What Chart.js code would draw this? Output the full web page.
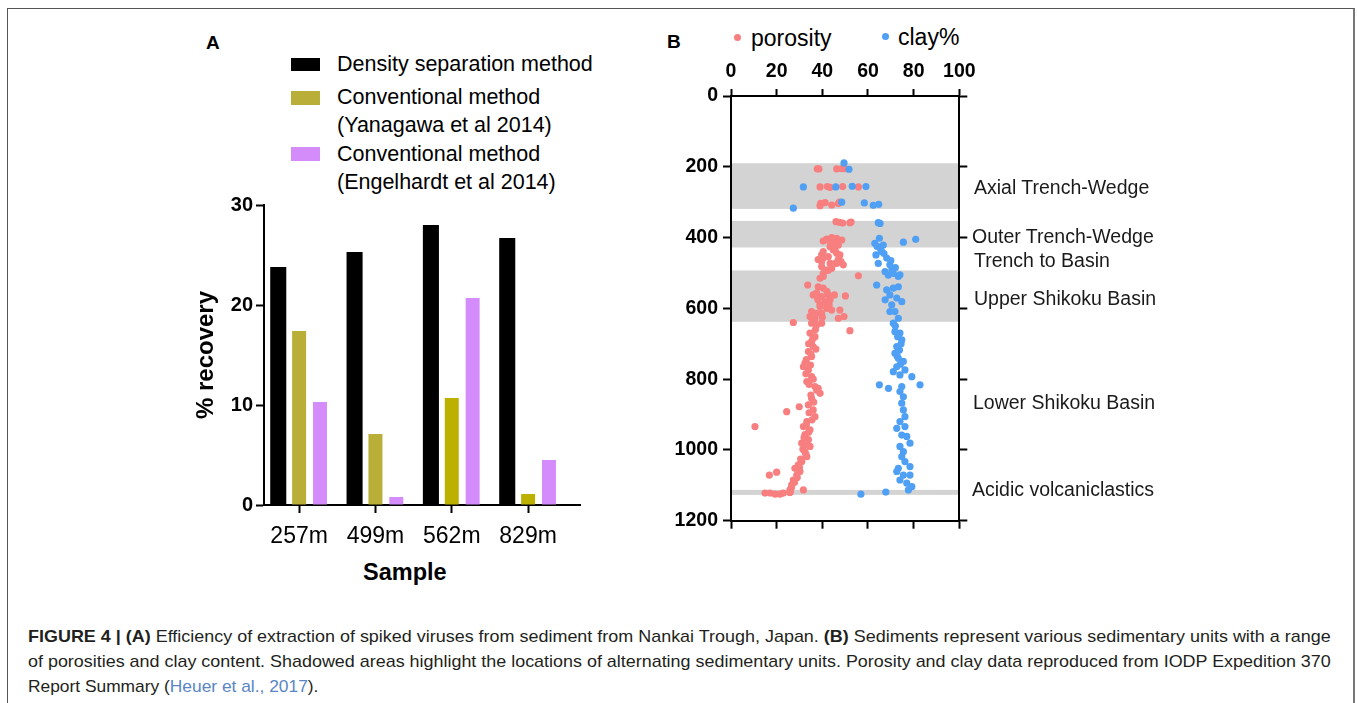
<!DOCTYPE html>
<html>
<head>
<meta charset="utf-8">
<script src="https://cdn.jsdelivr.net/npm/chart.js@4.4.0/dist/chart.umd.min.js"></script>
<style>
  body { margin: 0; width: 1357px; height: 703px; overflow: hidden; background: #fff; position: relative;
         font-family: 'Liberation Sans', Arial, sans-serif; color: #000; }
  .frame { position: absolute; left: 7px; top: 8px; width: 1348px; height: 760px; box-sizing: border-box;
           border: 1px solid #555; border-right: 2px solid #777; }
  .t { position: absolute; white-space: nowrap; line-height: 1; transform: translateY(-50%); }
  .b { font-weight: bold; }
  .sw { position: absolute; width: 29px; height: 14px; }
  .dot { position: absolute; width: 7px; height: 7px; border-radius: 50%; }
  .unit { font-size: 19.5px; color: #1a1a1a; }
  .leg { font-size: 21.5px; }
  .cap { font-family: 'Liberation Sans Narrow', 'Liberation Sans', Arial, sans-serif; font-size: 17px;
         color: #231f20; transform-origin: left center; }
  canvas { position: absolute; }
</style>
</head>
<body>
<div class="frame"></div>

<!-- panel A -->
<div class="t b" style="left:206px;top:42px;font-size:19px">A</div>
<div class="sw" style="left:291px;top:58px;height:13px;background:#000"></div>
<div class="t leg" style="left:337px;top:65px">Density separation method</div>
<div class="sw" style="left:291px;top:91px;background:#b9ae37"></div>
<div class="t leg" style="left:337px;top:98px">Conventional method</div>
<div class="t leg" style="left:337px;top:126px">(Yanagawa et al 2014)</div>
<div class="sw" style="left:291px;top:147px;background:#d48cfa"></div>
<div class="t leg" style="left:337px;top:155px">Conventional method</div>
<div class="t leg" style="left:337px;top:183px">(Engelhardt et al 2014)</div>
<div class="t b" style="left:363px;top:573px;font-size:23.5px">Sample</div>
<canvas id="chartA" width="440" height="410" style="left:150px;top:190px;width:440px;height:410px"></canvas>

<!-- panel B -->
<div class="t b" style="left:667px;top:41px;font-size:19px">B</div>
<div class="dot" style="left:734px;top:34px;background:#f87f7f"></div>
<div class="t" style="left:751px;top:38px;font-size:23px">porosity</div>
<div class="dot" style="left:882px;top:33px;background:#4fa0f4"></div>
<div class="t" style="left:898px;top:37px;font-size:23px">clay%</div>
<canvas id="chartB" width="330" height="490" style="left:660px;top:50px;width:330px;height:490px"></canvas>
<div class="t unit" style="left:974px;top:188px">Axial Trench-Wedge</div>
<div class="t unit" style="left:972px;top:237px">Outer Trench-Wedge</div>
<div class="t unit" style="left:974px;top:261px">Trench to Basin</div>
<div class="t unit" style="left:974px;top:299px">Upper Shikoku Basin</div>
<div class="t unit" style="left:973px;top:403px">Lower Shikoku Basin</div>
<div class="t unit" style="left:972px;top:490px">Acidic volcaniclastics</div>

<!-- caption -->
<div class="t cap" data-w="1303" style="left:28px;top:636px"><b>FIGURE 4 | (A)</b> Efficiency of extraction of spiked viruses from sediment from Nankai Trough, Japan. <b>(B)</b> Sediments represent various sedimentary units with a range</div>
<div class="t cap" data-w="1303" style="left:28px;top:661px">of porosities and clay content. Shadowed areas highlight the locations of alternating sedimentary units. Porosity and clay data reproduced from IODP Expedition 370</div>
<div class="t cap" data-w="290" style="left:28px;top:686px">Report Summary (<span style="color:#5a86c5">Heuer et al., 2017</span>).</div>

<script>
// ---- panel A data ----
const samples = ["257m", "499m", "562m", "829m"];
const densityVals = [23.8, 25.3, 28.0, 26.7];
const yanagawaVals = [17.4, 7.1, 10.7, 1.1];
const engelhardtVals = [10.3, 0.8, 20.7, 4.5];

// ---- panel B data: [value %, depth m] ----
const porosity = [
  [37.8, 206], [38.5, 206], [46.3, 206], [48.5, 205], [50, 205],
  [39, 257], [42.2, 256], [43.4, 258], [48.9, 256], [55.8, 257],
  [39.3, 303], [39, 310], [41.2, 301], [44.1, 308], [47, 304], [47.5, 300],
  [46, 355], [47.5, 357], [48.9, 359], [52.1, 358], [52.6, 356],
  [41.9, 404], [44.1, 400], [46.3, 402], [48.5, 407], [45.6, 416], [43.4, 426], [47, 421],
  [44.8, 435], [40.4, 440], [39.7, 449], [42.6, 454], [46.3, 444], [47.7, 449], [49.2, 477],
  [43.4, 473], [46.3, 473], [39.7, 482], [41.9, 492], [40.4, 501], [44.1, 487], [55.8, 508],
  [40.4, 410], [43.4, 412], [45.6, 430], [38.2, 462], [40.4, 458], [47, 462], [48.2, 468],
  [39.7, 468], [42.6, 492], [45.6, 473],
  [40.4, 510], [39, 515], [33.6, 534], [38.2, 539], [36, 562], [39.7, 567], [42.6, 562],
  [45.3, 562], [50.1, 565], [39, 590], [41.2, 581], [43.4, 576], [41.9, 600], [47.7, 605],
  [39.7, 614], [35.3, 609], [34.6, 623], [47, 628], [49.5, 623], [27.3, 640], [35.3, 642],
  [37.5, 647], [39.7, 642], [52.1, 663], [37.5, 557], [40.4, 543], [41.9, 586], [39, 595],
  [44.1, 605], [37.5, 614], [43, 590], [38, 575], [42, 552], [36.8, 630], [40, 625],
  [34.6, 670], [36.8, 680], [35.3, 694], [36, 708], [33.9, 722], [35.3, 736], [32.4, 755],
  [31.7, 765], [33.9, 774], [35.3, 793], [33.2, 807], [36.8, 821], [38.2, 826],
  [37, 660], [35.8, 686], [34, 700], [37.2, 715], [35, 730], [33, 745], [34.8, 760],
  [32.8, 785], [36, 800], [34.2, 815], [33.5, 760],
  [37.5, 831], [39, 840], [35.3, 854], [33.9, 873], [36, 887], [36.8, 906], [33.2, 920],
  [31.7, 934], [34.6, 943], [32.4, 957], [33.9, 971], [31, 981], [34.6, 990], [32.4, 1005],
  [33.2, 1019], [31, 1033], [29.5, 1042], [28, 1052], [30.2, 1061], [28.8, 1071], [27.3, 1085],
  [26.6, 1099], [25.8, 1113], [31.7, 1113],
  [24.4, 892], [29.9, 878], [10.5, 934], [16.8, 1071], [20, 1063],
  [14.9, 1122], [17.1, 1122], [19.3, 1125], [21.5, 1125], [22.9, 1122], [25.8, 1120],
  [35, 845], [36.2, 865], [34.2, 895], [35.5, 915], [33, 930], [34, 950], [32, 965],
  [33.5, 985], [31.5, 998], [32.8, 1012], [30.5, 1026], [30, 1050], [29, 1078], [27.8, 1092],
  [26.5, 1106], [26, 1118]
];
const clay = [
  [49.5, 189], [51.7, 207],
  [31.7, 257], [45.9, 257], [53.1, 255], [59.1, 256],
  [27.3, 317], [48.5, 300], [58.4, 302], [62.3, 309], [64.7, 306],
  [64.5, 358], [65.3, 360],
  [65, 402], [63, 416], [66.7, 421], [75.5, 413], [80.9, 405],
  [63.5, 449], [66, 440], [68.2, 458], [64.5, 473], [69.6, 477], [67.5, 496], [71.1, 501], [74, 505],
  [64, 425], [65.5, 432], [67, 445], [70, 465], [72, 485], [70.5, 490],
  [68.9, 506], [73.3, 510],
  [63.8, 534], [68.2, 548], [71.1, 543], [73.3, 539], [69.6, 562], [67.5, 576], [72.6, 571],
  [74.8, 581], [70.4, 590], [69.6, 609], [71.8, 609], [73.3, 628], [71.1, 642], [71.8, 666],
  [74, 670], [74.8, 689], [72.6, 708], [71.8, 727], [73.3, 741], [75.5, 750], [72.6, 765],
  [76.2, 774], [71.1, 779], [74, 788], [79.2, 793], [82.8, 816], [65, 816], [74.8, 821], [69, 826],
  [72, 650], [73, 680], [74.5, 700], [73.8, 718], [72.8, 735], [74.2, 758],
  [74, 835], [75.5, 850], [74.8, 868], [75.5, 887], [76.2, 906], [74, 920], [72.6, 939],
  [76.2, 934], [74.8, 958], [77, 962], [78.4, 981], [74, 990], [75.5, 1005], [74.8, 1019],
  [76.2, 1033], [78.4, 1047], [73.3, 1052], [72.6, 1061], [75.5, 1071], [78.4, 1071],
  [74, 1085], [77, 1094], [79.2, 1104], [77.7, 1113],
  [56.9, 1125], [67.8, 1119]
];
// shaded sedimentary units (depth, m)
const bandTop = [190, 353, 493, 1113];
const bandBottom = [319, 428, 638, 1127];

Chart.defaults.font.family = "'Liberation Sans', Arial, sans-serif";
Chart.defaults.color = "#000";

const axisGrid = (len) => ({ drawOnChartArea: false, color: "#000", tickLength: len, tickWidth: 2, offset: false });
const axisBorder = { color: "#000", width: 2 };

// Panel A - bar chart
new Chart(document.getElementById("chartA"), {
  type: "bar",
  data: {
    datasets: [
      { label: "Density separation method", data: densityVals.map((v, i) => ({ x: i, y: v })),
        backgroundColor: "#000", barPercentage: 0.77 },
      { label: "Conventional method (Yanagawa et al 2014)", data: yanagawaVals.map((v, i) => ({ x: i, y: v })),
        backgroundColor: ["#b9ae37", "#b9ae37", "#bcb000", "#bcb000"], barPercentage: 0.67 },
      { label: "Conventional method (Engelhardt et al 2014)", data: engelhardtVals.map((v, i) => ({ x: i, y: v })),
        backgroundColor: "#d48cfa", barPercentage: 0.67 },
    ],
  },
  options: {
    responsive: false,
    animation: false,
    events: [],
    layout: { padding: { left: 0, top: 14, right: 10, bottom: 0 } },
    datasets: { bar: { categoryPercentage: 0.82 } },
    plugins: { legend: { display: false }, tooltip: { enabled: false } },
    scales: {
      x: {
        type: "linear", offset: false, min: -0.46, max: 3.68,
        afterBuildTicks: (s) => { s.ticks = samples.map((c, i) => ({ value: i })); },
        afterFit: (s) => { s.height = 95; },
        ticks: { callback: (v) => samples[v], font: { size: 23 }, padding: 10, maxRotation: 0, autoSkip: false },
        grid: axisGrid(8),
        border: axisBorder,
      },
      y: {
        min: 0, max: 30,
        afterFit: (s) => { s.width = 114; },
        ticks: { stepSize: 10, font: { size: 20, weight: "bold" }, padding: 3 },
        grid: axisGrid(8),
        border: axisBorder,
        title: { display: true, text: "% recovery", font: { size: 24, weight: "bold" }, padding: { top: 42, bottom: 0 } },
      },
    },
  },
});

// Panel B - depth profile
const bands = {
  id: "bands",
  beforeDraw(chart) {
    const { ctx, chartArea: a, scales: { y } } = chart;
    ctx.save();
    ctx.fillStyle = "#d3d3d3";
    bandTop.forEach((t, i) => {
      const y0 = y.getPixelForValue(t);
      const y1 = y.getPixelForValue(bandBottom[i]);
      ctx.fillRect(a.left, y0, a.right - a.left, y1 - y0);
    });
    ctx.restore();
  },
};

new Chart(document.getElementById("chartB"), {
  type: "scatter",
  data: {
    datasets: [
      { label: "porosity", data: porosity.map((p) => ({ x: p[0], y: p[1] })), order: 1,
        backgroundColor: "#f87f7f", pointRadius: 3.6, borderWidth: 0 },
      { label: "clay%", data: clay.map((p) => ({ x: p[0], y: p[1] })), order: 0,
        backgroundColor: "#4fa0f4", pointRadius: 3.6, borderWidth: 0 },
    ],
  },
  options: {
    responsive: false,
    animation: false,
    events: [],
    layout: { padding: 0 },
    plugins: { legend: { display: false }, tooltip: { enabled: false } },
    scales: {
      x: {
        type: "linear", position: "top", min: 0, max: 100,
        afterFit: (s) => { s.height = 46; },
        ticks: { stepSize: 20, font: { size: 19.5, weight: "bold" }, padding: 6 },
        grid: axisGrid(7),
        border: axisBorder,
      },
      x2: {
        type: "linear", position: "bottom", min: 0, max: 100,
        afterFit: (s) => { s.height = 19.3; },
        ticks: { stepSize: 20, display: false },
        grid: axisGrid(8),
        border: axisBorder,
      },
      y: {
        type: "linear", position: "left", reverse: true, min: 0, max: 1200,
        afterFit: (s) => { s.width = 71; },
        ticks: { stepSize: 200, font: { size: 19.5, weight: "bold" }, padding: 5, callback: (v) => String(v) },
        grid: axisGrid(8),
        border: axisBorder,
      },
      y2: {
        type: "linear", position: "right", reverse: true, min: 0, max: 1200,
        afterFit: (s) => { s.width = 30.7; },
        ticks: { stepSize: 200, display: false },
        grid: axisGrid(8),
        border: axisBorder,
      },
    },
  },
  plugins: [bands],
});

// squeeze caption lines to the justified widths of the original
document.querySelectorAll(".cap").forEach((el) => {
  const w = +el.dataset.w;
  el.style.transform = `translateY(-50%) scaleX(${w / el.scrollWidth})`;
});
</script>
</body>
</html>
